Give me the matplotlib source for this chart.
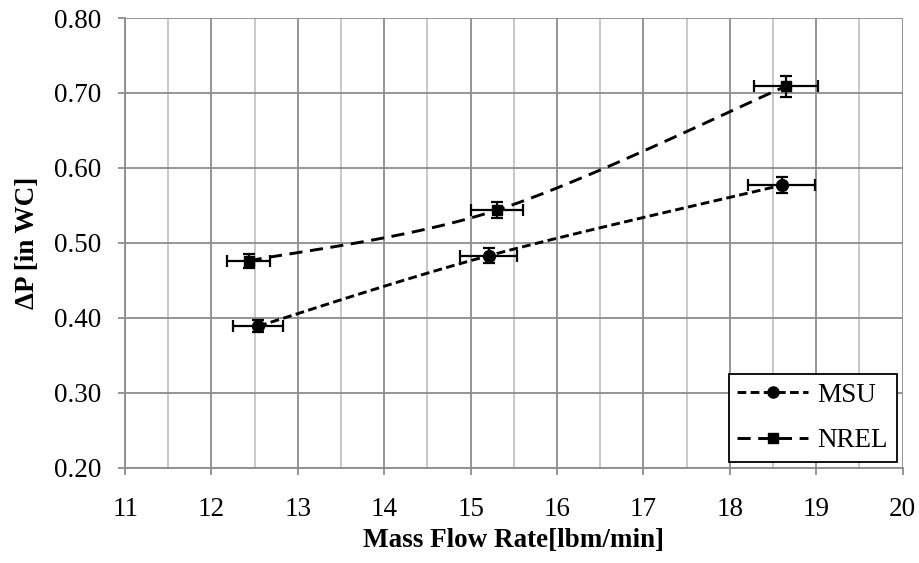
import numpy as np
import matplotlib
matplotlib.use("Agg")
import matplotlib.pyplot as plt
from matplotlib.ticker import MultipleLocator, FormatStrFormatter

plt.rcParams['font.family'] = ['Liberation Serif', 'DejaVu Serif']

# ---- data ----
msu_x = [12.54, 15.21, 18.60]
msu_y = [0.389, 0.483, 0.577]
msu_xerr = [0.29, 0.33, 0.39]
msu_yerr = [0.008, 0.010, 0.011]

nrel_x = [12.43, 15.31, 18.65]
nrel_y = [0.476, 0.544, 0.709]
nrel_xerr = [0.25, 0.30, 0.37]
nrel_yerr = [0.009, 0.011, 0.014]

x_ticks = [11, 12, 13, 14, 15, 16, 17, 18, 19, 20]
y_ticks = [0.20, 0.30, 0.40, 0.50, 0.60, 0.70, 0.80]

FS = 19.5

fig = plt.figure(figsize=(9.2, 5.63), dpi=100)
ax = fig.add_axes([0.136, 0.169, 0.845, 0.799])
ax.set_xlim(11, 20)
ax.set_ylim(0.2, 0.8)

W = 0.845 * 9.2
H = 0.799 * 5.63


def smooth(xs, ys, n=60):
    # Excel-like smoothed line (Catmull-Rom style bezier) in display-proportional space
    px = (np.asarray(xs) - 11) / 9 * W
    py = (np.asarray(ys) - 0.2) / 0.6 * H
    P = np.column_stack([px, py])
    out = []
    for i in range(len(P) - 1):
        p0 = P[i - 1] if i > 0 else P[i]
        p1 = P[i]
        p2 = P[i + 1]
        p3 = P[i + 2] if i + 2 < len(P) else P[i + 1]
        c1 = p1 + (p2 - p0) / 6
        c2 = p2 - (p3 - p1) / 6
        t = np.linspace(0, 1, n)[:, None]
        seg = ((1 - t) ** 3) * p1 + 3 * ((1 - t) ** 2) * t * c1 + 3 * (1 - t) * t ** 2 * c2 + t ** 3 * p2
        out.append(seg if i == 0 else seg[1:])
    S = np.vstack(out)
    return S[:, 0] / W * 9 + 11, S[:, 1] / H * 0.6 + 0.2


grid_major = '#8c8c8c'
grid_minor = '#c4c4c4'
ax.xaxis.set_minor_locator(MultipleLocator(0.5))
ax.yaxis.set_major_formatter(FormatStrFormatter('%.2f'))
ax.set_xticks(x_ticks)
ax.set_yticks(y_ticks)
ax.grid(which='major', color=grid_major, lw=1.3, zorder=0)
ax.grid(which='minor', axis='x', color=grid_minor, lw=1.3, zorder=0)
ax.set_axisbelow(True)
for s in ['top', 'right']:
    ax.spines[s].set_visible(False)
for s in ['left', 'bottom']:
    ax.spines[s].set_color(grid_major)
    ax.spines[s].set_linewidth(1.3)
ax.tick_params(which='major', direction='out', length=5, width=1.3, color=grid_major,
               labelsize=FS)
ax.tick_params(axis='x', pad=16)
ax.tick_params(axis='y', pad=12)
ax.tick_params(which='minor', length=0)

LW = 2.1
d_msu = (3.0, 1.5)
d_nrel = (4.5, 2.6)

# lines
sx, sy = smooth(msu_x, msu_y)
ax.plot(sx, sy, color='black', lw=LW, dashes=d_msu, zorder=3)
nx, ny = smooth(nrel_x, nrel_y)
ax.plot(nx, ny, color='black', lw=LW, dashes=d_nrel, zorder=3)

ax.errorbar(msu_x, msu_y, xerr=msu_xerr, yerr=msu_yerr, fmt='o', color='black',
            ms=8.5, elinewidth=1.6, capsize=4.2, capthick=1.6, zorder=4)
ax.errorbar(nrel_x, nrel_y, xerr=nrel_xerr, yerr=nrel_yerr, fmt='s', color='black',
            ms=7.5, elinewidth=1.6, capsize=4.2, capthick=1.6, zorder=4)

# legend handles
h1, = ax.plot([], [], color='black', lw=LW, dashes=d_msu, marker='o', ms=8, label='MSU')
h2, = ax.plot([], [], color='black', lw=LW, dashes=d_nrel, marker='s', ms=7, label='NREL')
leg = ax.legend(handles=[h1, h2], loc='lower right', bbox_to_anchor=(1.0, 0.0),
                fontsize=FS, frameon=True, fancybox=False, edgecolor='black',
                framealpha=1, handlelength=2.6, labelspacing=0.75, borderpad=0.32,
                handletextpad=0.35, borderaxespad=0.22)
leg.get_frame().set_linewidth(1.3)

ax.set_xlabel('Mass Flow Rate[lbm/min]', fontsize=FS, fontweight='bold', labelpad=4)
ax.set_ylabel('ΔP [in WC]', fontsize=FS, fontweight='bold', labelpad=10)

fig.savefig('out.png', dpi=100)
